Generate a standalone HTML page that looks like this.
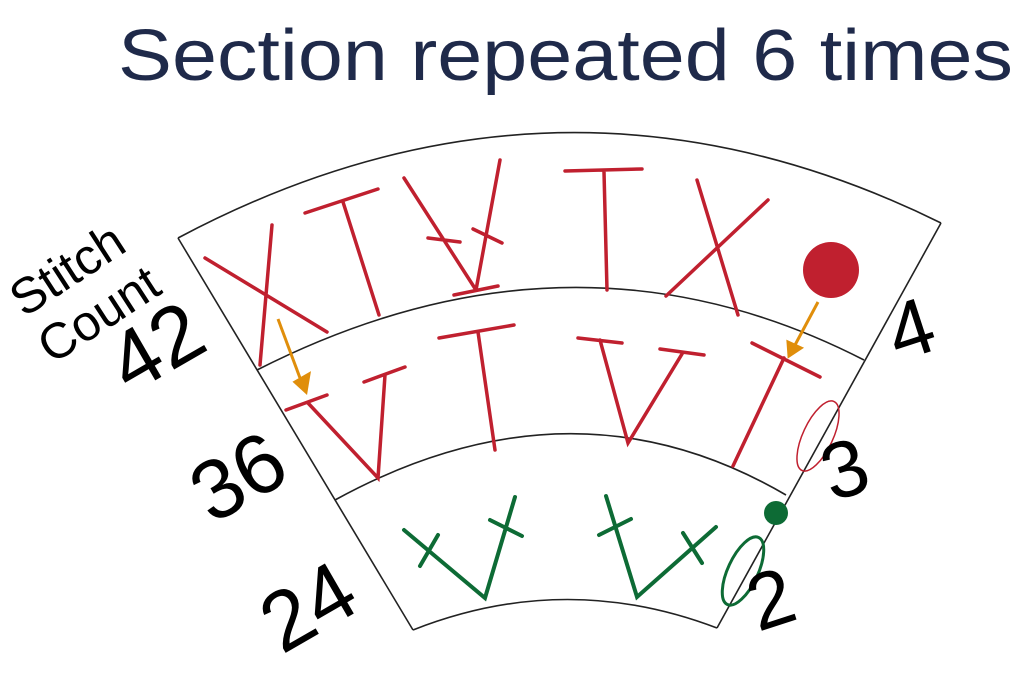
<!DOCTYPE html>
<html><head><meta charset="utf-8"><style>
html,body{margin:0;padding:0;background:#fff;width:1024px;height:677px;overflow:hidden}
</style></head><body>
<svg width="1024" height="677" viewBox="0 0 1024 677" xmlns="http://www.w3.org/2000/svg">
<text x="118" y="80" font-family="Liberation Sans, sans-serif" font-size="72" fill="#1f2a4a" textLength="895" lengthAdjust="spacingAndGlyphs">Section repeated 6 times</text>
<g fill="none" stroke="#222" stroke-width="1.6">
<path d="M178,238 Q560,35 941,223"/>
<path d="M178,238 L413,630"/>
<path d="M941,223 L717,628"/>
<path d="M257,370 Q572,210 864,360"/>
<path d="M335,500 Q572,370 786,495"/>
<path d="M413,630 Q565,570 717,628"/>
</g>
<g stroke="#c0202f" stroke-width="3.5" stroke-linecap="round" fill="none">
<path d="M205,258 L327,332 M272,225 L260,365"/>
<path d="M305,213 L378,189 M343,202 L379,315"/>
<path d="M404,178 L476,290 M500,160 L476,290 M428,238 L460,242 M473,229 L502,243 M454,295 L498,286"/>
<path d="M565,171 L642,169 M604,172 L607,290"/>
<path d="M697,180 L738,315 M768,200 L666,296"/>
<path d="M286,410 L327,395 M308,403 L378,478 L385,375 M364,382 L405,367"/>
<path d="M439,338 L514,325 M478,332 L495,450"/>
<path d="M578,338 L622,343 M600,340 L628,443 L682,354 M660,349 L704,355"/>
<path d="M752,343 L820,377 M784,358 L733,466"/>
</g>
<circle cx="831" cy="270" r="28" fill="#c0202f"/>
<ellipse cx="818" cy="436" rx="15" ry="38" transform="rotate(25 818 436)" fill="none" stroke="#c0202f" stroke-width="1.5"/>
<g stroke="#e08e0b" stroke-width="3" fill="#e08e0b">
<path d="M278,319 L300,378"/><path d="M295,382 L306,392 L309,374 Z"/>
<path d="M818,302 L795,345"/><path d="M788,342 L789,356 L801,348 Z"/>
</g>
<g stroke="#0d6b35" stroke-width="4" stroke-linecap="round" fill="none">
<path d="M404,530 L485,598 L515,497 M420,566 L438,535 M490,520 L522,536"/>
<path d="M606,496 L637,597 L716,527 M599,535 L631,519 M683,533 L702,563"/>
</g>
<circle cx="776" cy="513" r="12" fill="#0d6b35"/>
<ellipse cx="743" cy="571" rx="15" ry="37" transform="rotate(25 743 571)" fill="none" stroke="#0d6b35" stroke-width="3"/>
<g font-family="Liberation Sans, sans-serif" fill="#000">
<text x="0" y="0" font-size="50" transform="translate(24,318) rotate(-33)">Stitch</text>
<text x="0" y="0" font-size="50" transform="translate(52,365) rotate(-33)">Count</text>
<text x="0" y="0" font-size="84" transform="translate(130,395) rotate(-30)">42</text>
<text x="0" y="0" font-size="84" transform="translate(212,525) rotate(-30)">36</text>
<text x="0" y="0" font-size="84" transform="translate(282,655) rotate(-30)">24</text>
<text x="0" y="0" font-size="80" transform="translate(898,362) rotate(-18)">4</text>
<text x="0" y="0" font-size="80" transform="translate(832,502) rotate(-18)">3</text>
<text x="0" y="0" font-size="80" transform="translate(758,632) rotate(-18)">2</text>
</g>
</svg>
</body></html>
